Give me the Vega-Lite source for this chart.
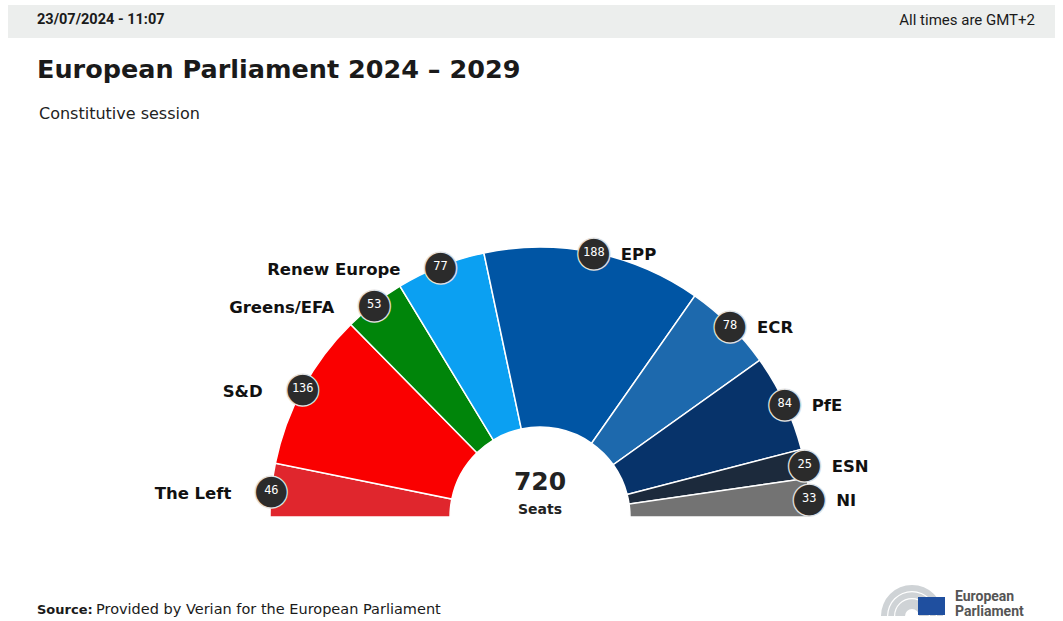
{
  "$schema": "https://vega.github.io/schema/vega-lite/v6.json",
  "width": 1063,
  "height": 621,
  "autosize": {"type": "fit", "contains": "padding"},
  "padding": 0,
  "background": "white",
  "config": {"view": {"stroke": null}},
  "datasets": {
    "seats": [
      {"party": "The Left", "seats": 46, "order": 1},
      {"party": "S&D", "seats": 136, "order": 2},
      {"party": "Greens/EFA", "seats": 53, "order": 3},
      {"party": "Renew Europe", "seats": 77, "order": 4},
      {"party": "EPP", "seats": 188, "order": 5},
      {"party": "ECR", "seats": 78, "order": 6},
      {"party": "PfE", "seats": 84, "order": 7},
      {"party": "ESN", "seats": 25, "order": 8},
      {"party": "NI", "seats": 33, "order": 9}
    ]
  },
  "layer": [
    {
      "data": {"values": [{}]},
      "mark": {"type": "rect", "x": 8, "x2": 1055, "y": 5, "y2": 38, "fill": "#eceeed"},
      "encoding": {}
    },
    {
      "data": {"values": [{}]},
      "mark": {"type": "text", "text": "23/07/2024 - 11:07", "x": 37, "y": 20, "align": "left", "baseline": "middle", "font": "Roboto", "fontWeight": "bold", "fontSize": 14.5, "fill": "#1a1a1a"},
      "encoding": {}
    },
    {
      "data": {"values": [{}]},
      "mark": {"type": "text", "text": "All times are GMT+2", "x": 1035, "y": 20, "align": "right", "baseline": "middle", "font": "Roboto", "fontSize": 15, "fill": "#1a1a1a"},
      "encoding": {}
    },
    {
      "data": {"values": [{}]},
      "mark": {"type": "text", "text": "European Parliament 2024 – 2029", "x": 37, "y": 70, "align": "left", "baseline": "middle", "font": "DejaVu Sans", "fontWeight": "bold", "fontSize": 25.5, "fill": "#1a1a1a"},
      "encoding": {}
    },
    {
      "data": {"values": [{}]},
      "mark": {"type": "text", "text": "Constitutive session", "x": 39, "y": 114, "align": "left", "baseline": "middle", "font": "DejaVu Sans", "fontSize": 16, "fill": "#222222"},
      "encoding": {}
    },
    {
      "data": {"name": "seats"},
      "mark": {"type": "arc", "x": 540, "y": 517, "outerRadius": 270, "innerRadius": 90, "stroke": "#ffffff", "strokeWidth": 1.5},
      "encoding": {
        "theta": {"field": "seats", "type": "quantitative", "stack": true, "scale": {"range": [-1.5707963, 1.5707963], "nice": false, "zero": true}},
        "order": {"field": "order", "type": "quantitative"},
        "color": {
          "field": "party",
          "type": "nominal",
          "scale": {
            "domain": ["The Left", "S&D", "Greens/EFA", "Renew Europe", "EPP", "ECR", "PfE", "ESN", "NI"],
            "range": ["#e0262d", "#fa0000", "#00850a", "#0ba0f2", "#0055a4", "#1d69ad", "#07336a", "#1c2a3c", "#737373"]
          },
          "legend": null
        }
      }
    },
    {
      "data": {"name": "seats"},
      "mark": {"type": "text", "text": "●", "x": 540, "y": 517, "radius": 270, "align": "center", "baseline": "middle", "font": "DejaVu Sans", "fontSize": 42, "fill": "#2b2b2b", "stroke": "#e2e2e2", "strokeWidth": 1.2},
      "encoding": {
        "theta": {"field": "seats", "type": "quantitative", "stack": true},
        "order": {"field": "order", "type": "quantitative"}
      }
    },
    {
      "data": {"name": "seats"},
      "mark": {"type": "text", "x": 540, "y": 517, "radius": 270, "align": "center", "baseline": "middle", "font": "DejaVu Sans Mono", "fontSize": 12, "fill": "#ffffff"},
      "encoding": {
        "theta": {"field": "seats", "type": "quantitative", "stack": true},
        "order": {"field": "order", "type": "quantitative"},
        "text": {"field": "seats", "type": "quantitative"}
      }
    },
    {
      "data": {"name": "seats"},
      "mark": {"type": "text", "x": 540, "y": 517, "radius": 270, "dx": -40, "dy": 4, "align": "right", "baseline": "middle", "font": "DejaVu Sans", "fontWeight": "bold", "fontSize": 16.5, "fill": "#111111"},
      "encoding": {
        "theta": {"field": "seats", "type": "quantitative", "stack": true},
        "order": {"field": "order", "type": "quantitative"},
        "text": {"field": "party", "type": "nominal"},
        "opacity": {"condition": {"test": "datum.order <= 4", "value": 1}, "value": 0}
      }
    },
    {
      "data": {"name": "seats"},
      "mark": {"type": "text", "x": 540, "y": 517, "radius": 270, "dx": 27, "dy": 3, "align": "left", "baseline": "middle", "font": "DejaVu Sans", "fontWeight": "bold", "fontSize": 16.5, "fill": "#111111"},
      "encoding": {
        "theta": {"field": "seats", "type": "quantitative", "stack": true},
        "order": {"field": "order", "type": "quantitative"},
        "text": {"field": "party", "type": "nominal"},
        "opacity": {"condition": {"test": "datum.order >= 5", "value": 1}, "value": 0}
      }
    },
    {
      "data": {"name": "seats"},
      "transform": [{"aggregate": [{"op": "sum", "field": "seats", "as": "total"}]}],
      "mark": {"type": "text", "x": 540, "y": 482, "align": "center", "baseline": "middle", "font": "DejaVu Sans", "fontWeight": "bold", "fontSize": 25, "fill": "#222222"},
      "encoding": {"text": {"field": "total", "type": "quantitative"}}
    },
    {
      "data": {"values": [{}]},
      "mark": {"type": "text", "text": "Seats", "x": 540, "y": 510, "align": "center", "baseline": "middle", "font": "DejaVu Sans", "fontWeight": "bold", "fontSize": 14, "fill": "#222222"},
      "encoding": {}
    },
    {
      "data": {"values": [{}]},
      "mark": {"type": "text", "text": "Source:", "x": 37, "y": 610, "align": "left", "baseline": "middle", "font": "DejaVu Sans", "fontWeight": "bold", "fontSize": 13, "fill": "#1a1a1a"},
      "encoding": {}
    },
    {
      "data": {"values": [{}]},
      "mark": {"type": "text", "text": "Provided by Verian for the European Parliament", "x": 96, "y": 610, "align": "left", "baseline": "middle", "font": "DejaVu Sans", "fontSize": 14.5, "fill": "#1a1a1a"},
      "encoding": {}
    },
    {
      "data": {"values": [{}]},
      "mark": {"type": "arc", "x": 912, "y": 616, "theta": -1.5707963, "theta2": 1.5707963, "outerRadius": 31, "innerRadius": 7, "fill": "#cfd3d6"},
      "encoding": {}
    },
    {
      "data": {"values": [{}]},
      "mark": {"type": "arc", "x": 912, "y": 616, "theta": -1.5707963, "theta2": 1.5707963, "outerRadius": 25, "innerRadius": 23.8, "fill": "#ffffff"},
      "encoding": {}
    },
    {
      "data": {"values": [{}]},
      "mark": {"type": "arc", "x": 912, "y": 616, "theta": -1.5707963, "theta2": 1.5707963, "outerRadius": 18, "innerRadius": 16.8, "fill": "#ffffff"},
      "encoding": {}
    },
    {
      "data": {"values": [{}]},
      "mark": {"type": "rect", "x": 918, "x2": 945, "y": 597, "y2": 615, "fill": "#1f4f9f"},
      "encoding": {}
    },
    {
      "data": {"values": [{}]},
      "mark": {"type": "text", "text": "European", "x": 955, "y": 597, "align": "left", "baseline": "middle", "font": "Roboto", "fontWeight": "bold", "fontSize": 14, "fill": "#555555"},
      "encoding": {}
    },
    {
      "data": {"values": [{}]},
      "mark": {"type": "text", "text": "Parliament", "x": 955, "y": 612, "align": "left", "baseline": "middle", "font": "Roboto", "fontWeight": "bold", "fontSize": 14, "fill": "#555555"},
      "encoding": {}
    }
  ]
}
